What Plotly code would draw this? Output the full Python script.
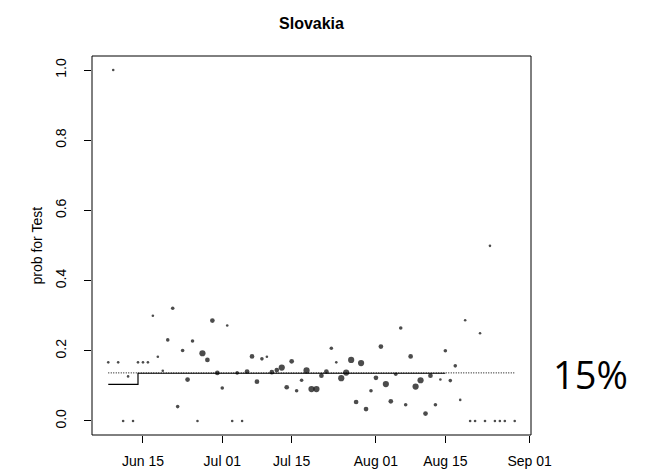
import datetime as dt
import plotly.graph_objects as go

# ---- data ----
start_date = dt.date(2020, 6, 8)
# daily probability for a positive test; None = no data that day
prob = [0.167, 1.0, 0.167, 0.0, 0.127, 0.0, 0.167, 0.167, 0.167, 0.30,
        0.183, 0.143, 0.231, 0.321, 0.041, 0.201, 0.118, 0.228, 0.0, 0.193,
        0.174, 0.286, 0.137, 0.094, 0.272, 0.0, 0.137, 0.0, 0.141, 0.184,
        0.112, 0.177, 0.183, 0.139, 0.145, 0.152, 0.096, 0.170, 0.086, 0.116,
        0.144, 0.091, 0.091, 0.129, 0.141, 0.207, 0.167, 0.122, 0.138, 0.174,
        0.054, 0.165, 0.034, 0.086, 0.123, 0.212, 0.105, 0.056, 0.133, 0.265,
        0.046, 0.184, 0.098, 0.116, 0.021, 0.129, 0.046, 0.118, 0.200, 0.115,
        0.157, 0.060, 0.287, 0.0, 0.0, 0.250, 0.0, 0.499, 0.0, 0.0,
        0.0, None, 0.0]
# relative number of tests per day (drives the point size)
weight = [1, 1, 1, 1, 1, 1, 1, 1, 1, 1,
          1, 1, 2, 2, 2, 2, 3, 2, 1, 4,
          3, 3, 3, 2, 1, 1, 2, 1, 3, 3,
          3, 2, 1, 3, 3, 4, 3, 3, 2, 2,
          4, 4, 4, 3, 3, 2, 1, 4, 4, 4,
          3, 4, 3, 2, 3, 3, 4, 3, 2, 2,
          2, 3, 4, 4, 3, 3, 2, 1, 2, 2,
          2, 1, 1, 1, 1, 1, 1, 1, 1, 1,
          1, 1, 1]
# step estimate (solid) and overall mean (dotted)
step_dates = [dt.date(2020, 6, 8), dt.date(2020, 6, 14), dt.date(2020, 8, 15)]
step_vals = [0.104, 0.136, 0.136]
mean_dates = [dt.date(2020, 6, 8), dt.date(2020, 8, 29)]
mean_vals = [0.137, 0.137]

tick_dates = [dt.date(2020, 6, 15), dt.date(2020, 7, 1), dt.date(2020, 7, 15),
              dt.date(2020, 8, 1), dt.date(2020, 8, 15), dt.date(2020, 9, 1)]
tick_labels = ["Jun 15", "Jul 01", "Jul 15", "Aug 01", "Aug 15", "Sep 01"]
y_ticks = [0.0, 0.2, 0.4, 0.6, 0.8, 1.0]
y_tick_labels = ["0.0", "0.2", "0.4", "0.6", "0.8", "1.0"]

title = "Slovakia"
y_title = "prob for Test"
side_text = "15%"

# ---- build ----
dates = [start_date + dt.timedelta(days=i) for i in range(len(prob))]
pts = [(d, p, w) for d, p, w in zip(dates, prob, weight) if p is not None]
size_map = {1: 2.6, 2: 3.6, 3: 4.7, 4: 6.2}

fig = go.Figure()
fig.add_trace(go.Scatter(x=mean_dates, y=mean_vals, mode="lines",
                         line=dict(color="black", width=1, dash="1px,1.5px"),
                         hoverinfo="skip"))
fig.add_trace(go.Scatter(x=step_dates, y=step_vals, mode="lines",
                         line=dict(color="black", width=1.2, shape="hv"),
                         hoverinfo="skip"))
fig.add_trace(go.Scatter(x=[p[0] for p in pts], y=[p[1] for p in pts],
                         mode="markers",
                         marker=dict(color="black", size=[size_map[p[2]] for p in pts],
                                     line=dict(width=0))))

d0 = dt.datetime.combine(dates[0], dt.time())
d1 = dt.datetime.combine(dates[-1], dt.time())
pad = (d1 - d0) * 0.04
FONT = "Liberation Sans, Arial, sans-serif"

fig.update_layout(
    width=657, height=473,
    margin=dict(l=84, r=134, t=48, b=35),
    paper_bgcolor="white", plot_bgcolor="white",
    showlegend=False,
    title=dict(text="<b>" + title + "</b>", x=303.5 / 657, xanchor="center",
               y=1 - 15 / 473, yanchor="middle", yref="container",
               font=dict(family=FONT, size=16, color="black")),
)
fig.update_xaxes(type="date", range=[d0 - pad, d1 + pad],
                 tickvals=tick_dates, ticktext=tick_labels,
                 ticks="outside", ticklen=7, tickcolor="black", tickwidth=1,
                 showgrid=False, zeroline=False, showline=False,
                 ticklabelstandoff=6,
                 tickfont=dict(family=FONT, size=14, color="black"))
fig.update_yaxes(range=[-0.04, 1.04], tickvals=y_ticks, ticktext=y_tick_labels,
                 tickangle=-90,
                 ticks="outside", ticklen=7, tickcolor="black", tickwidth=1,
                 showgrid=False, zeroline=False, showline=False,
                 ticklabelstandoff=12,
                 tickfont=dict(family=FONT, size=14, color="black"))
fig.add_shape(type="rect", xref="paper", yref="paper", x0=0, y0=0, x1=1, y1=1,
              line=dict(color="black", width=1))
fig.add_annotation(text=y_title, xref="paper", yref="paper",
                   x=(28 - 84) / 439, y=0.5, textangle=-90, showarrow=False,
                   xanchor="center", yanchor="middle",
                   font=dict(family=FONT, size=14, color="black"))
fig.add_annotation(text=side_text, xref="paper", yref="paper",
                   x=(543 - 84) / 439, y=(438 - 375) / 390, showarrow=False,
                   xanchor="left", yanchor="middle",
                   font=dict(family="Open Sans, Liberation Sans, sans-serif", size=38, color="black"))

fig.write_html("out.html")
